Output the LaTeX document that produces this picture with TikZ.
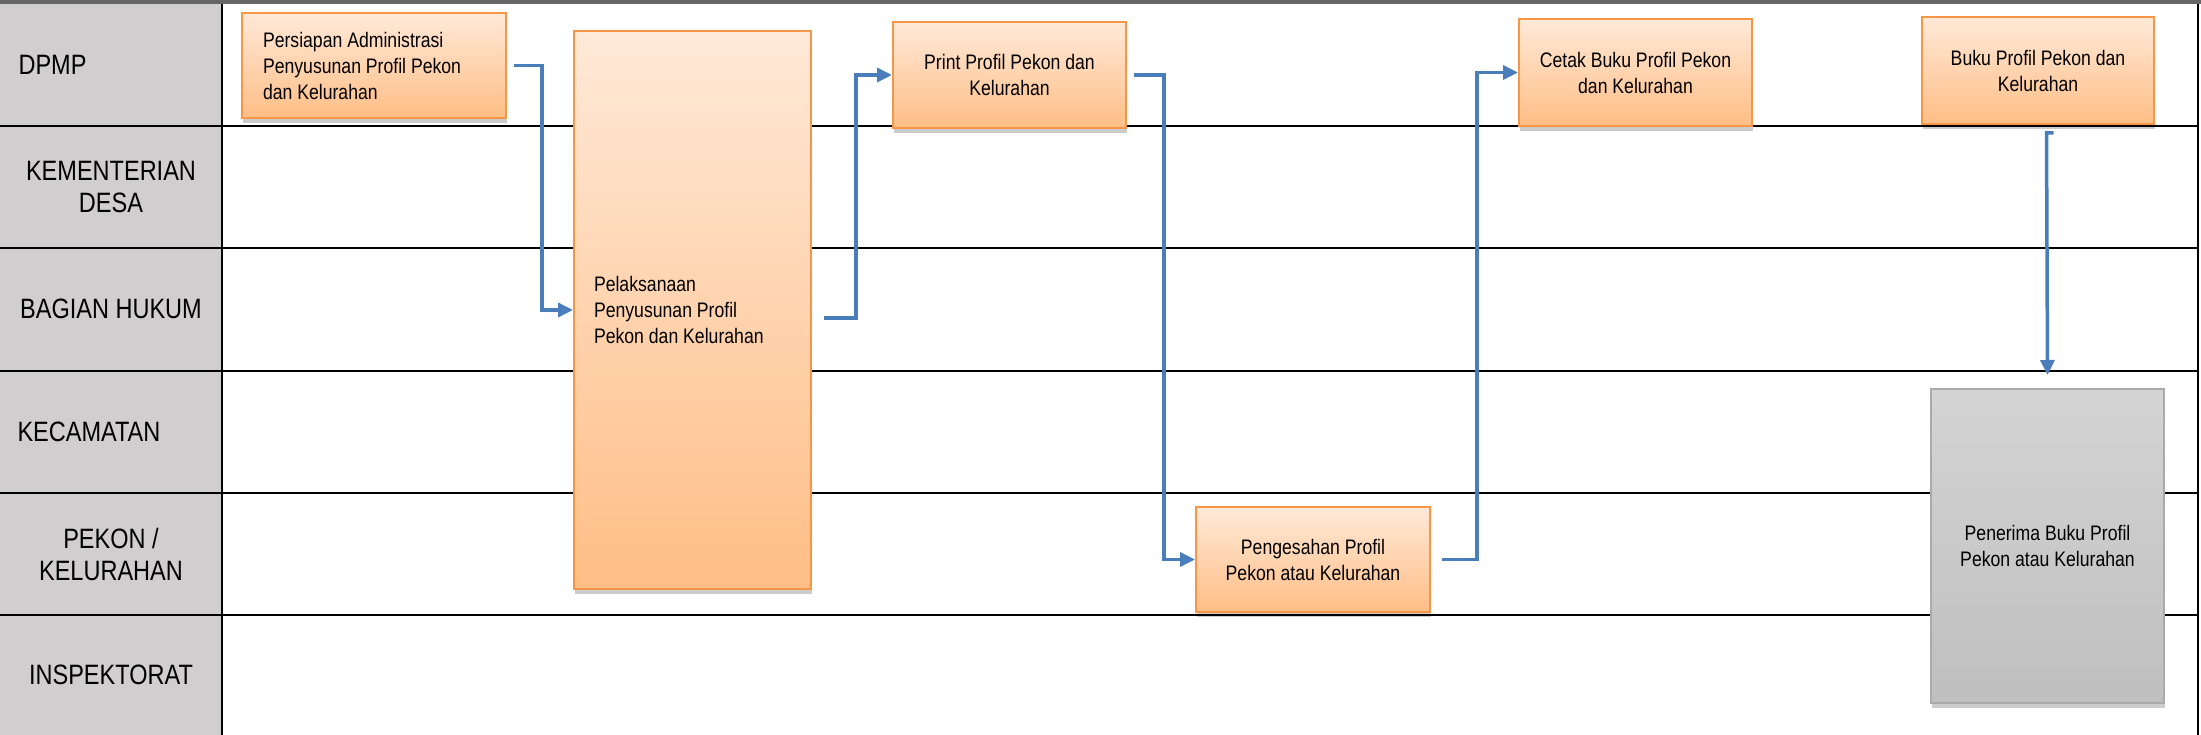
\documentclass[tikz,border=0pt]{standalone}
\usepackage{fontspec}
\setmainfont[FakeStretch=0.84]{Liberation Sans}
\usetikzlibrary{arrows.meta,shadows}
\definecolor{lanegray}{RGB}{208,206,206}
\definecolor{boxorange}{RGB}{247,150,70}
\definecolor{peachtop}{RGB}{255,233,216}
\definecolor{peachbot}{RGB}{255,190,134}
\definecolor{flowblue}{RGB}{74,126,187}
\definecolor{graytop}{RGB}{212,212,212}
\definecolor{graybot}{RGB}{191,191,191}
\definecolor{grayedge}{RGB}{170,170,170}
\tikzset{
  lanetext/.style={font=\fontsize{28}{32}\selectfont,align=center},
  taskbox/.style={draw=boxorange,line width=2pt,top color=peachtop,bottom color=peachbot,
    anchor=north west,inner sep=0pt,font=\fontsize{21}{26}\selectfont,align=center,
    drop shadow={shadow xshift=1pt,shadow yshift=-5pt,opacity=0.2,fill=black}},
  endbox/.style={taskbox,draw=grayedge,top color=graytop,bottom color=graybot},
  flow/.style={draw=flowblue,line width=3.5pt,-{Triangle[length=15pt,width=14pt]}}
}
\begin{document}
\begin{tikzpicture}[x=1pt,y=-1pt]
\useasboundingbox (0,0) rectangle (2201,735);
\fill[lanegray] (0,0) rectangle (222,735);
\foreach \y in {126,248,371,493,615}
  \draw[line width=2pt] (0,\y) -- (2198,\y);
\draw[line width=2pt] (222,0) -- (222,735);
\draw[line width=2pt] (2198,0) -- (2198,735);
\draw[line width=3.5pt,black!60] (0,2) -- (2201,2);
\node[lanetext,anchor=west] (dpmp) at (15,65) {DPMP};
\node[lanetext] (kemdesa) at (111,187) {KEMENTERIAN\\DESA};
\node[lanetext] (hukum) at (111,309) {BAGIAN HUKUM};
\node[lanetext,anchor=west] (kecamatan) at (14,432) {KECAMATAN};
\node[lanetext] (pekon) at (111,554) {PEKON /\\KELURAHAN};
\node[lanetext] (inspektorat) at (111,675) {INSPEKTORAT};
\node[taskbox,align=flush left,inner xsep=21pt,text width=222pt,minimum height=105pt] (persiapan) at (241,12)
  {Persiapan Administrasi\\Penyusunan Profil Pekon\\dan Kelurahan};
\node[taskbox,align=flush left,inner xsep=20pt,text width=197pt,minimum height=558pt] (pelaksanaan) at (573,30)
  {Pelaksanaan\\Penyusunan Profil\\Pekon dan Kelurahan};
\node[taskbox,minimum width=233pt,minimum height=106pt] (print) at (892,21)
  {Print Profil Pekon dan\\Kelurahan};
\node[taskbox,minimum width=234pt,minimum height=105pt] (pengesahan) at (1195,506)
  {Pengesahan Profil\\Pekon atau Kelurahan};
\node[taskbox,minimum width=233pt,minimum height=107pt] (cetak) at (1518,18)
  {Cetak Buku Profil Pekon\\dan Kelurahan};
\node[taskbox,minimum width=232pt,minimum height=107pt] (buku) at (1921,16)
  {Buku Profil Pekon dan\\Kelurahan};
\node[endbox,minimum width=233pt,minimum height=314pt] (penerima) at (1930,388)
  {Penerima Buku Profil\\Pekon atau Kelurahan};
\coordinate (bukuout) at (2053.5,133);
\draw[flow] ([xshift=7pt]persiapan.east) -- ++(28,0) |- (pelaksanaan.west);
\draw[flow] ([xshift=12pt,yshift=-8pt]pelaksanaan.east) -- ++(32,0) |- (print.west);
\draw[flow] ([xshift=7pt]print.east) -- ++(30,0) |- (pengesahan.west);
\draw[flow] ([xshift=11pt]pengesahan.east) -- ++(35,0) |- (cetak.west);
\draw[flow] (bukuout) -- ++(-7,0) -- ([yshift=13pt]penerima.north);
\end{tikzpicture}
\end{document}
